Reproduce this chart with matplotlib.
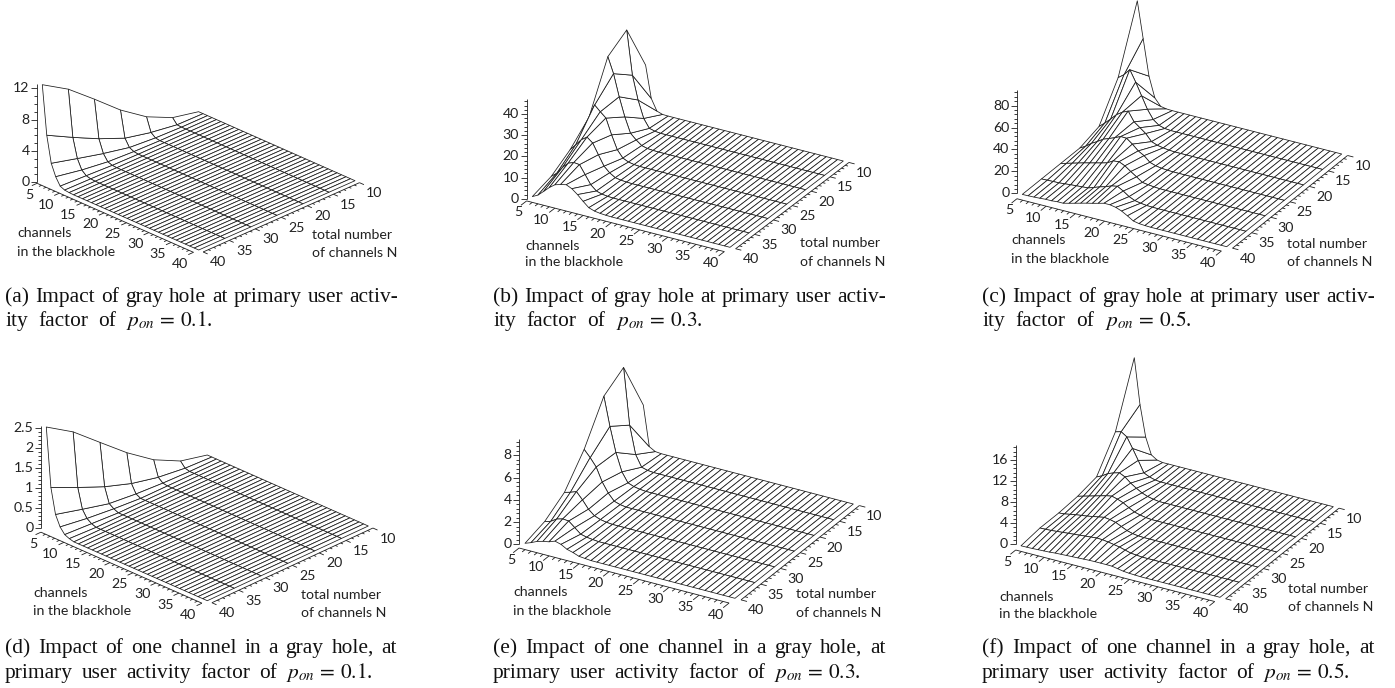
import numpy as np
import matplotlib
matplotlib.use("Agg")
import matplotlib.pyplot as plt
from matplotlib.lines import Line2D
from mpl_toolkits.mplot3d import proj3d

W_PX, H_PX = 1395, 688
SANS = "Lato"
SERIF = "Liberation Serif"
plt.rcParams["mathtext.fontset"] = "stix"

channels_m = list(range(5, 41))
total_n = [40, 35, 30, 25, 20, 15, 10]
m_ticks = [5, 10, 15, 20, 25, 30, 35, 40]
n_ticks = [10, 15, 20, 25, 30, 35, 40]

# values: one list per N (40,35,...,10), over m = 5,6,7...; the rest of each line is flat at 0
z_a = [[12.3, 6.1, 2.77, 1.3, .35, .1, .03],
       [10.25, 4.35, 1.9, .68, .2, .05],
       [7.5, 2.7, 1.06, .25, .05],
       [4.64, 1.3, .35, .08],
       [2.3, .55, .1],
       [.72, .05],
       [0]]
z_b = [[0, 1.4, 3.8, 6.3, 8.3, 9.1, 9.7, 8.5, 6.4, 3.9, 1.6, .7, .3, .1],
       [2.7, 4.9, 8.3, 11, 12, 11.7, 7.7, 3.6, 1.3, .5, .15],
       [8.5, 11.5, 14.6, 16.5, 14.4, 9.6, 4.9, 2.4, .8, .3, .1],
       [17, 23.5, 21, 18.7, 11.5, 5.2, 1.9, .7, .2],
       [38.8, 31.5, 21.3, 12.5, 5.5, 3, 1, .3, .1],
       [44.6, 24, 13, 5, 1, .3],
       [21.3, 6.3, 1, .1]]
z_c = [[0, .1, .3, .6, 1, 1, 1.5, 1.5, 2.8, 4.2, 5.6, 7, 8.2, 9.6, 11, 11, 10, 8, 5, 1.7, .6, .2],
       [0, .2, .4, .5, 1, 1.5, 1.9, 2.3, 2.7, 4.5, 6.4, 7.9, 10, 11, 8, 4.3, 2, 1, .3, .1],
       [0, 1.5, 3, 4.5, 6, 7.3, 8.7, 10, 11.5, 14.6, 15.2, 12.8, 9, 5.5, 1.8, 1, .4, .1],
       [0, 3, 7, 10, 13.5, 15.5, 17.6, 20, 19.8, 15.8, 11, 8, 3.3, 1.5, .6, .2],
       [5.5, 10, 15, 20.4, 24, 26.4, 18, 14, 10, 4, 2, 1, .3],
       [36, 40, 46, 36, 25, 14, 6, 2, .5],
       [92, 59, 26, 7.6, 1.2, .2]]
z_d = [[2.55, 1.1, .48, .22, .08, .03],
       [2.12, .79, .3, .12, .04],
       [1.55, .5, .13, .05],
       [.985, .27, .06],
       [.5, .115, .02],
       [.16, .03],
       [0]]
z_e = [[0, .2, .45, .6, .7, .9, .75, .45, .3, .1, .05],
       [.55, .7, 1.05, 1.2, 1.15, .7, .25, .12, .05],
       [1.75, 1.9, 2.1, 1.5, .8, .35, .15, .05],
       [4.2, 3.6, 2.9, 1.7, .85, .25, .08],
       [7.57, 5, 2.8, 1.2, .35, .15, .05],
       [8.74, 3.7, 1.2, .2, .05],
       [3.95, .35, .05]]
z_f = [[0, .02, .05, .1, .15, .2, .3, .35, .4, .45, .5, .55, .6, .62, .62, .62, .6, .4, .2, .1, .05],
       [.5, .55, .6, .7, .8, .9, 1.0, 1.1, 1.2, 1.3, 1.4, 1.35, 1.2, 1.0, .8, .5, .2, .1],
       [.5, .6, .8, 1, 1.15, 1.3, 1.5, 1.7, 1.9, 1.75, 1.5, 1.0, .5, .2, .05],
       [.8, 1.1, 1.4, 1.7, 2.0, 2.3, 2.5, 2.2, 1.8, 1.15, .6, .3, .1],
       [1.6, 2.1, 2.8, 3.2, 3.5, 3, 2.1, 1.4, .8, .4, .15],
       [7.3, 7.6, 6.9, 5, 3, .9, .4, .1],
       [18.5, 9.9, 4, .9, .2]]

z_ticks_a = [0, 4, 8, 12]
z_ticks_b = [0, 10, 20, 30, 40]
z_ticks_c = [0, 20, 40, 60, 80]
z_ticks_d = [0, .5, 1, 1.5, 2, 2.5]
z_ticks_e = [0, 2, 4, 6, 8]
z_ticks_f = [0, 4, 8, 12, 16]

cap_a = ["(a) Impact of gray hole at primary user activ-", r"ity factor of $p_{on}\,=\,0.1$."]
cap_b = ["(b) Impact of gray hole at primary user activ-", r"ity factor of $p_{on}\,=\,0.3$."]
cap_c = ["(c) Impact of gray hole at primary user activ-", r"ity factor of $p_{on}\,=\,0.5$."]
cap_d = ["(d) Impact of one channel in a gray hole, at", r"primary user activity factor of $p_{on}\,=\,0.1$."]
cap_e = ["(e) Impact of one channel in a gray hole, at", r"primary user activity factor of $p_{on}\,=\,0.3$."]
cap_f = ["(f) Impact of one channel in a gray hole, at", r"primary user activity factor of $p_{on}\,=\,0.5$."]

panels = [
    dict(z=z_a, O=(42.3, 181), F=(198.7, 250), R=(355, 180.7), zpx=7.83, zmax=12.6, dN=1.0, dM=1.0, zs=-1,
         ticks=z_ticks_a, minor=1, ml=(17, 233, 252), tl=(312, 235, 253),
         cap=cap_a, cx=(5, 398, 213), cy=(302, 326)),
    dict(z=z_b, O=(532.3, 196.6), F=(730, 247.3), R=(843.3, 161), zpx=2.123, zmax=47, dN=1.5, dM=1.0, zs=-2,
         ticks=z_ticks_b, minor=2, ml=(525, 246, 262), tl=(800, 243, 262),
         cap=cap_b, cx=(493, 886, 703), cy=(302, 326)),
    dict(z=z_c, O=(1022.3, 194.4), F=(1226.7, 246.7), R=(1341.7, 154), zpx=1.097, zmax=94, dN=1.4, dM=1.0, zs=-5.4,
         ticks=z_ticks_c, minor=4, ml=(1011, 240, 259), tl=(1287, 244, 262),
         cap=cap_c, cx=(982, 1375, 1192), cy=(302, 326)),
    dict(z=z_d, O=(46.3, 529.7), F=(207.3, 600.7), R=(368.3, 526), zpx=40.27, zmax=2.54, dN=1.0, dM=1.0, zs=-4,
         ticks=z_ticks_d, minor=.1, ml=(33, 593, 611), tl=(301, 595, 613),
         cap=cap_d, cx=(5, 397, 373), cy=(653, 678)),
    dict(z=z_e, O=(525, 543.3), F=(735, 598.3), R=(853.3, 504), zpx=11.13, zmax=9.5, dN=1.5, dM=1.0, zs=-3.7,
         ticks=z_ticks_e, minor=.4, ml=(513, 592, 611), tl=(796, 594, 613),
         cap=cap_e, cx=(493, 886, 861), cy=(653, 678)),
    dict(z=z_f, O=(1021, 545.8), F=(1220, 597.3), R=(1333.3, 506.7), zpx=5.27, zmax=18.9, dN=1.4, dM=1.0, zs=-5.7,
         ticks=z_ticks_f, minor=.8, ml=(999, 597, 614), tl=(1288, 589, 607),
         cap=cap_f, cx=(982, 1375, 1350), cy=(653, 678)),
]

LINE = "#1c1c1c"
fig = plt.figure(figsize=(W_PX / 100, H_PX / 100), dpi=100, facecolor="white")
renderer = fig.canvas.get_renderer()


def fx(x):
    return x / W_PX


def fy(y):
    return 1 - y / H_PX


def seg(xs, ys, lw=0.6):
    fig.add_artist(Line2D([fx(x) for x in xs], [fy(y) for y in ys], color=LINE, lw=lw,
                          solid_capstyle="butt"))


def grid_values(cols):
    out = np.zeros((len(channels_m), len(total_n)))
    for j, col in enumerate(cols):
        out[:len(col), j] = col
    return out


def set_square(ax, cx, cy, side):
    ax.set_position([fx(cx - side / 2), fy(cy + side / 2), side / W_PX, side / H_PX])
    ax.apply_aspect()


def px_of(ax, m, n, z):
    X, Y, _ = proj3d.proj_transform(m, n, z, ax.get_proj())
    p = ax.transData.transform((X, Y))
    return p[0], H_PX - p[1]


def justify(text_line, x0, x1, y):
    words = text_line.split(" ")
    arts = [fig.text(fx(x0), fy(y), w, family=SERIF, fontsize=15.4, color="#111111", va="baseline")
            for w in words]
    widths = [a.get_window_extent(renderer).width for a in arts]
    gap = (x1 - x0 - sum(widths)) / max(len(words) - 1, 1)
    x = x0
    for a, w in zip(arts, widths):
        a.set_x(fx(x))
        x += w + gap


for p in panels:
    O, F, R = map(np.array, (p["O"], p["F"], p["R"]))
    mdx, mdy = F[0] - O[0], F[1] - O[1]
    ndx, ndy = R[0] - F[0], F[1] - R[1]
    sin_e = np.sqrt((mdy / mdx) * (ndy / ndx))
    elev = np.arcsin(sin_e)
    az = np.arctan(np.sqrt((ndy / ndx) / (mdy / mdx)))
    a_len = mdx / np.sin(az) / 35
    b_len = ndx / np.cos(az) / 30
    c_len = p["zpx"] / np.cos(elev)

    mlo, mhi = 5, 41
    nhi, nlo = 41.5, 9

    ax = fig.add_axes([0.3, 0.3, 0.2, 0.2], projection="3d", proj_type="ortho")
    ax.set_facecolor("none")
    ax.set_axis_off()
    M, N = np.meshgrid(channels_m, total_n, indexing="ij")
    Z = grid_values(p["z"])
    ax.plot_surface(M, N, Z, rstride=1, cstride=1, color="white", shade=False,
                    edgecolor=LINE, linewidth=0.56)
    ax.set_xlim(mlo, mhi, view_margin=0)
    ax.set_ylim(nhi, nlo, view_margin=0)
    ax.set_zlim(0, p["zmax"], view_margin=0)
    ax.set_box_aspect((a_len * (mhi - mlo), b_len * (nhi - nlo), c_len * p["zmax"]))
    ax.view_init(elev=np.degrees(elev), azim=-np.degrees(az))

    set_square(ax, 700, 340, 400)
    F0, R0 = np.array(px_of(ax, 40, 40, 0)), np.array(px_of(ax, 40, 10, 0))
    side = 400 * np.linalg.norm(F - R) / np.linalg.norm(F0 - R0)
    set_square(ax, 700, 340, side)
    F1 = np.array(px_of(ax, 40, 40, 0))
    shift = F - F1
    set_square(ax, 700 + shift[0], 340 + shift[1], side)

    dN, dM = p["dN"], p["dM"]
    na, ma = 40 + dN, 40 + dM

    # z axis
    zs = p["zs"]
    x0, y0 = px_of(ax, 5, na, 0)
    _, yt = px_of(ax, 5, na, p["zmax"])
    seg([x0, x0], [y0 + zs, yt + zs])
    step = p["minor"]
    k = 0
    while k * step <= p["zmax"] + 1e-9:
        zv = k * step
        yy = px_of(ax, 5, na, zv)[1] + zs
        major = any(abs(zv - t) < 1e-6 for t in p["ticks"])
        seg([x0 - (6 if major else 3), x0], [yy, yy])
        k += 1
    for t in p["ticks"]:
        yy = px_of(ax, 5, na, t)[1] + zs
        fig.text(fx(x0 - 7.5), fy(yy), f"{t:g}", family=SANS, fontsize=10.2,
                 color="#222222", ha="right", va="center")

    # channel axis
    xa, ya = px_of(ax, 5, na, 0)
    xb, yb = px_of(ax, 40, na, 0)
    seg([xa, xb], [ya, yb])
    for mv in channels_m:
        major = mv in m_ticks
        x1, y1 = px_of(ax, mv, na, 0)
        x2, y2 = px_of(ax, mv, na + (1.0 if major else 0.5) * dN, 0)
        seg([x1, x2], [y1, y2])
        if major:
            fig.text(fx(x1 - (8 if mv == 5 else 13.5)), fy(y1 + 11.5), str(mv), family=SANS, fontsize=10.2,
                     color="#222222", ha="center", va="center")

    # total channels axis
    xa, ya = px_of(ax, ma, 40, 0)
    xb, yb = px_of(ax, ma, 10, 0)
    seg([xa, xb], [ya, yb])
    for nv in range(10, 41):
        major = nv in n_ticks
        x1, y1 = px_of(ax, ma, nv, 0)
        x2, y2 = px_of(ax, ma + (1.0 if major else 0.5) * dM, nv, 0)
        seg([x1, x2], [y1, y2])
        if major:
            fig.text(fx(x1 + 15), fy(y1 + 10.5), str(nv), family=SANS, fontsize=10.2,
                     color="#222222", ha="center", va="center")

    # axis titles
    xl, y1, y2 = p["ml"]
    fig.text(fx(xl), fy(y1), "channels", family=SANS, fontsize=10.2, color="#222222", va="center")
    fig.text(fx(xl), fy(y2), "in the blackhole", family=SANS, fontsize=10.2, color="#222222", va="center")
    xl, y1, y2 = p["tl"]
    fig.text(fx(xl), fy(y1), "total number", family=SANS, fontsize=10.2, color="#222222", va="center")
    fig.text(fx(xl), fy(y2), "of channels N", family=SANS, fontsize=10.2, color="#222222", va="center")

    # caption
    c0, c1, c2 = p["cx"]
    justify(p["cap"][0], c0, c1, p["cy"][0])
    justify(p["cap"][1], c0, c2, p["cy"][1])

fig.savefig("out.png", dpi=100)
